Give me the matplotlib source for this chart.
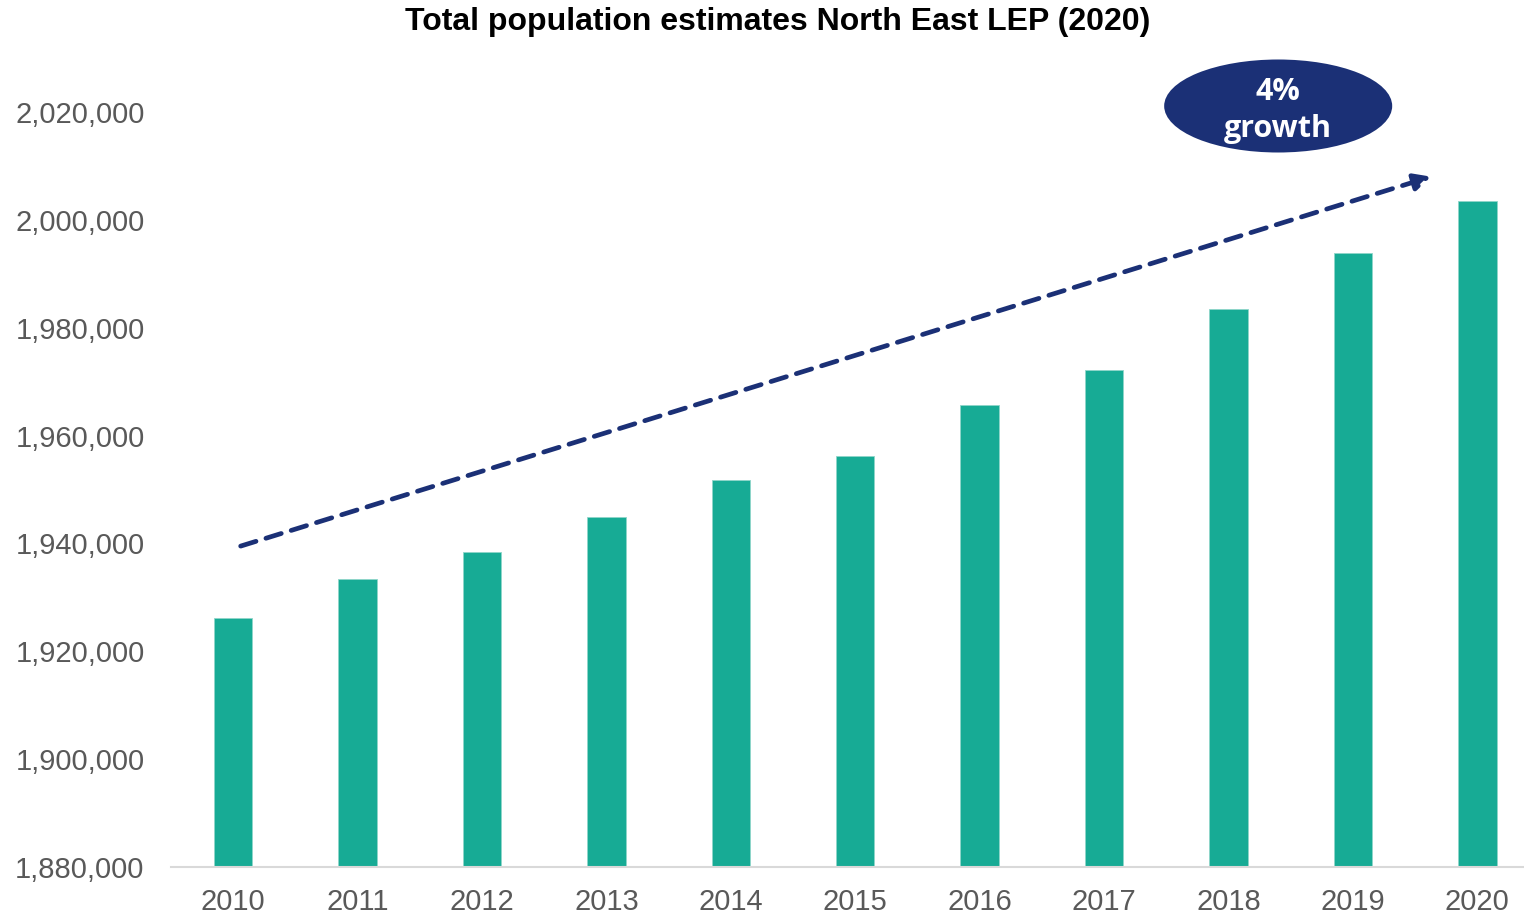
import matplotlib
matplotlib.use("Agg")
import matplotlib.pyplot as plt
from matplotlib.patches import Ellipse
from matplotlib.ticker import FuncFormatter

plt.rcParams['font.family'] = ['Liberation Sans', 'DejaVu Sans']

years = ['2010', '2011', '2012', '2013', '2014', '2015',
         '2016', '2017', '2018', '2019', '2020']
population = [1926170, 1933400, 1938350, 1944840, 1951700, 1956270,
              1965610, 1972160, 1983520, 1993910, 2003490]
y_ticks = [1880000, 1900000, 1920000, 1940000, 1960000, 1980000, 2000000, 2020000]

title = 'Total population estimates North East LEP (2020)'
badge_text = '4%\ngrowth'

BAR = '#17AB95'
NAVY = '#1B3076'
GREY = '#595959'

fig = plt.figure(figsize=(15.24, 9.15), dpi=100)
ax = fig.add_axes([171 / 1524, 1 - 867 / 915, (1524 - 171) / 1524, (867 - 58) / 915])

x = list(range(len(years)))
ax.bar(x, population, width=0.31, color=BAR, edgecolor='#8FD6CA', linewidth=0.6, zorder=2)

ax.set_xlim(-0.5, 10.376)
ax.set_ylim(1880000, 2030000)
ax.set_xticks(x)
ax.set_xticklabels(years)
ax.set_yticks(y_ticks)
ax.yaxis.set_major_formatter(FuncFormatter(lambda v, p: f'{int(v):,}'))

for s in ['top', 'right', 'left']:
    ax.spines[s].set_visible(False)
ax.spines['bottom'].set_color('#D9D9D9')
ax.spines['bottom'].set_linewidth(1.5)
ax.tick_params(axis='both', length=0, labelsize=21, labelcolor=GREY)
ax.tick_params(axis='y', pad=19)
ax.tick_params(axis='x', pad=15)

# dashed trend arrow
ax.annotate('', xy=(9.63, 2008000), xytext=(0.06, 1939500),
            arrowprops=dict(arrowstyle='-|>,head_length=1.0,head_width=0.5',
                            color=NAVY, lw=3.4, linestyle=(0, (3.4, 2.2)),
                            shrinkA=0, shrinkB=0),
            zorder=3)

# growth badge
ax.add_patch(Ellipse((8.40, 2021100), width=1.833, height=17245,
                     facecolor=NAVY, edgecolor='none', clip_on=False, zorder=4))
ax.text(8.40, 2020300, badge_text, ha='center', va='center', color='white',
        fontsize=22, fontweight='bold', linespacing=1.3,
        family=['Open Sans', 'DejaVu Sans'], zorder=5)

fig.text(778 / 1524, 1 - 22 / 915, title, ha='center', va='center',
         fontsize=23, fontweight='bold', color='black')

fig.savefig('out.png', dpi=100)
